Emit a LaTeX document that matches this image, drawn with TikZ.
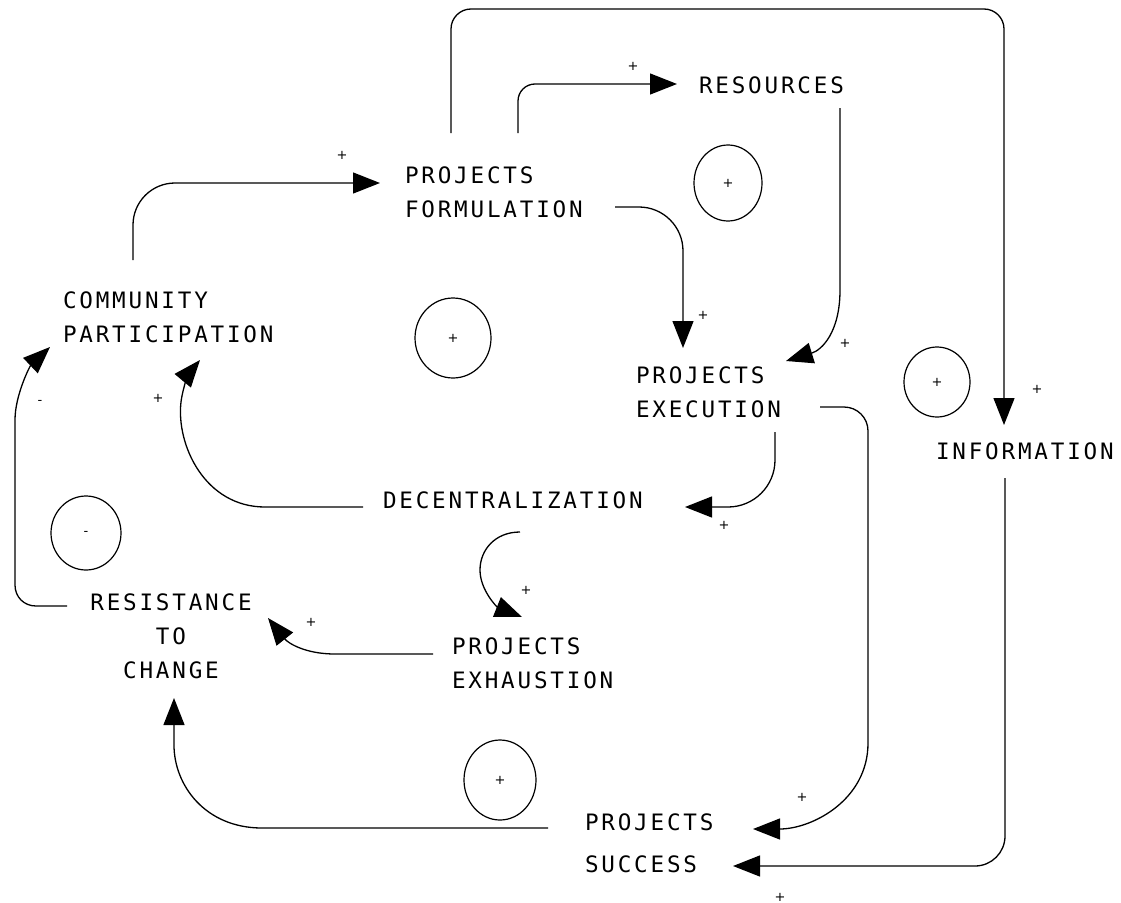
\documentclass[tikz,border=0pt]{standalone}
\usepackage{fontspec}
\usetikzlibrary{arrows.meta,shapes.geometric}
\newfontfamily\lblfont[LetterSpace=12.4]{DejaVu Sans Mono}
\newfontfamily\signfont{DejaVu Sans}
\tikzset{
  var/.style={font=\lblfont\fontsize{22.6}{34}\selectfont, inner sep=0, outer sep=0, align=left, anchor=north west},
  link/.style={line width=1.3pt, -{Triangle[length=27pt,width=21pt]}},
  sign/.style={font=\signfont\fontsize{13}{14}\selectfont, inner sep=0},
  loopmark/.style={draw, ellipse, line width=1.2pt, inner sep=0, font=\signfont\fontsize{13}{14}\selectfont}
}
\begin{document}
\begin{tikzpicture}[x=1pt,y=-1pt]
\useasboundingbox (0,0) rectangle (1121,902);
% variables
\node[var] (comm) at (63,291.5) {COMMUNITY\\PARTICIPATION};
\node[var] (form) at (405,166.5) {PROJECTS\\FORMULATION};
\node[var] (res) at (699,76.5) {RESOURCES};
\node[var] (exec) at (636,366.5) {PROJECTS\\EXECUTION};
\node[var] (info) at (936,442.5) {INFORMATION};
\node[var] (dec) at (383,491.5) {DECENTRALIZATION};
\node[var] (exh) at (452,637.5) {PROJECTS\\EXHAUSTION};
\node[var, align=center, anchor=north] (resist) at (171,593.5) {RESISTANCE\\TO\\CHANGE};
\node[var] (succ) at (585,813.5) {PROJECTS\\[8pt]SUCCESS};
% loop markers
\node[loopmark, minimum width=68pt, minimum height=76pt] (loopA) at (728,183) {+};
\node[loopmark, minimum width=76pt, minimum height=80pt] (loopB) at (453,338) {+};
\node[loopmark, minimum width=66pt, minimum height=70pt] (loopC) at (937,382) {+};
\node[loopmark, minimum width=70pt, minimum height=74pt] (loopD) at (86,533) {-};
\node[loopmark, minimum width=72pt, minimum height=80pt] (loopE) at (500,780) {+};
% connector end points
\coordinate (commTop) at (133,260);
\coordinate (formIn) at (380,183);
\coordinate (formTopA) at (518,133);
\coordinate (resIn) at (677,84);
\coordinate (formTopB) at (451,133);
\coordinate (infoIn) at (1004,425);
\coordinate (resOut) at (840,108);
\coordinate (execInA) at (786,361);
\coordinate (formOut) at (615,207);
\coordinate (execInB) at (683,348);
\coordinate (execDown) at (775,432);
\coordinate (decIn) at (685,507);
\coordinate (execRight) at (820,407);
\coordinate (succInA) at (753,829);
\coordinate (infoOut) at (1005,478);
\coordinate (succInB) at (733,866);
\coordinate (decLeft) at (363,507);
\coordinate (commInA) at (200,360);
\coordinate (resistLeft) at (67,606);
\coordinate (commInB) at (50,347);
\coordinate (exhLeft) at (433,654);
\coordinate (resistInA) at (268,618);
\coordinate (succLeft) at (548,828);
\coordinate (resistInB) at (174,698);
\coordinate (decBelow) at (520,532);
\coordinate (exhIn) at (522,617);
% connectors
\draw[link, rounded corners=42pt] (commTop) |- (formIn);
\draw[link, rounded corners=17pt] (formTopA) |- (resIn);
\draw[link, rounded corners=20pt] (formTopB) -- (451,9) -- (1004,9) -- (infoIn);
\draw[link] (resOut) -- (840,290) .. controls (840,332) and (822,350) .. (execInA);
\draw[link, rounded corners=44pt] (formOut) -| (execInB);
\draw[link, rounded corners=47pt] (execDown) |- (decIn);
\draw[link] (execRight) -- (844,407) .. controls (857.3,407) and (868,417.7) .. (868,431) -- (868,743) .. controls (868,800) and (812,829) .. (succInA);
\draw[link, rounded corners=30pt] (infoOut) |- (succInB);
\draw[link] (decLeft) -- (265,507) .. controls (205,507) and (176,445) .. (181,402) .. controls (183,386) and (190,372) .. (commInA);
\draw[link] (resistLeft) -- (36,606) .. controls (24,606) and (15,597) .. (15,585) -- (15,420) .. controls (15,395) and (30,366) .. (commInB);
\draw[link] (exhLeft) -- (335,654) .. controls (305,654) and (288,643) .. (resistInA);
\draw[link] (succLeft) -- (262,828) .. controls (205,828) and (174,785) .. (174,745) -- (resistInB);
\draw[link] (decBelow) .. controls (495,532) and (480,550) .. (480,570) .. controls (480,590) and (497,607) .. (exhIn);
% polarity signs
\node[sign] (sA) at (342,155) {+};
\node[sign] (sB) at (633,66) {+};
\node[sign] (sC) at (703,315) {+};
\node[sign] (sD) at (845,343) {+};
\node[sign] (sE) at (1037,389) {+};
\node[sign] (sF) at (724,525) {+};
\node[sign] (sG) at (526,590) {+};
\node[sign] (sH) at (311,622) {+};
\node[sign] (sI) at (158,398) {+};
\node[sign] (sJ) at (40,402) {-};
\node[sign] (sK) at (802,797) {+};
\node[sign] (sL) at (780,897) {+};
\end{tikzpicture}
\end{document}
